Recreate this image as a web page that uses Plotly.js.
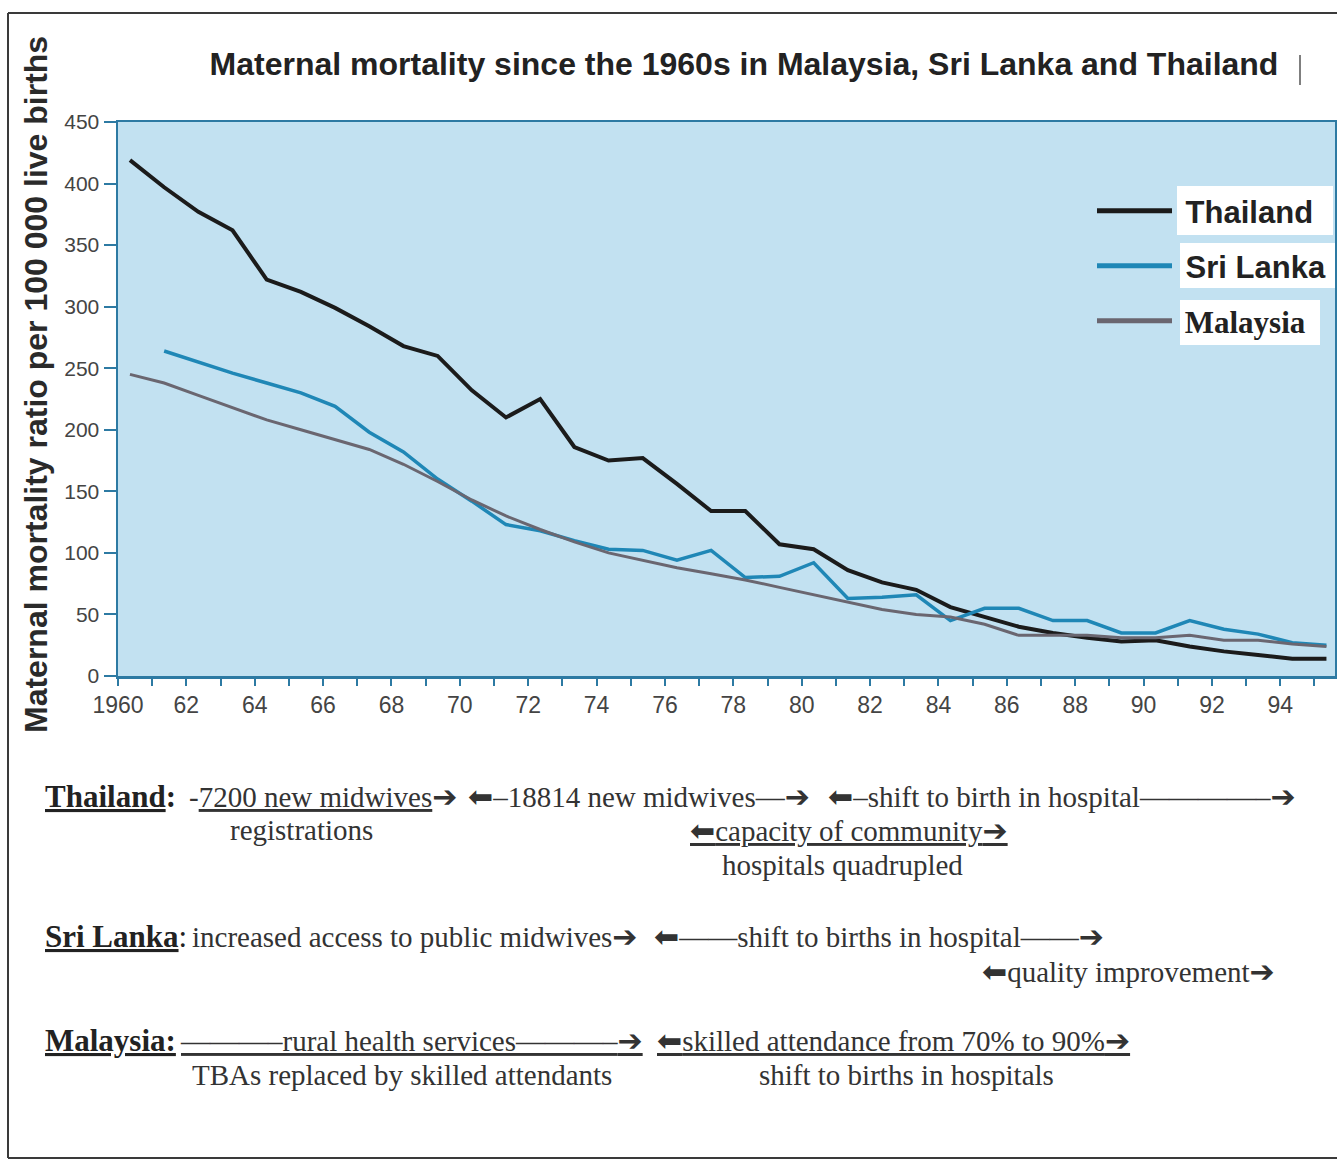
<!DOCTYPE html>
<html>
<head>
<meta charset="utf-8">
<script src="https://cdn.plot.ly/plotly-3.0.1.min.js"></script>
<style>html,body{margin:0;padding:0;background:#fff;}#chart{width:1337px;height:1163px;}</style>
</head>
<body>
<div id="chart"></div>
<script>
// ---- data ----
const yearsThailand = [1960,1961,1962,1963,1964,1965,1966,1967,1968,1969,1970,1971,1972,1973,1974,1975,1976,1977,1978,1979,1980,1981,1982,1983,1984,1985,1986,1987,1988,1989,1990,1991,1992,1993,1994,1995];
const thailand = [419,397,377,362,322,312,299,284,268,260,232,210,225,186,175,177,156,134,134,107,103,86,76,70,56,48,40,35,31,28,29,24,20,17,14,14];
const yearsSriLanka = [1961,1962,1963,1964,1965,1966,1967,1968,1969,1970,1971,1972,1973,1974,1975,1976,1977,1978,1979,1980,1981,1982,1983,1984,1985,1986,1987,1988,1989,1990,1991,1992,1993,1994,1995];
const sriLanka = [264,255,246,238,230,219,198,182,160,142,123,118,110,103,102,94,102,80,81,92,63,64,66,45,55,55,45,45,35,35,45,38,34,27,25];
const yearsMalaysia = [1960,1961,1962,1963,1964,1965,1966,1967,1968,1969,1970,1971,1972,1973,1974,1975,1976,1977,1978,1979,1980,1981,1982,1983,1984,1985,1986,1987,1988,1989,1990,1991,1992,1993,1994,1995];
const malaysia = [245,238,228,218,208,200,192,184,172,158,143,130,119,109,100,94,88,83,78,72,66,60,54,50,48,42,33,33,33,31,31,33,29,29,26,24];
const seriesNames = ["Thailand","Sri Lanka","Malaysia"];
const xTickVals = [1960,1962,1964,1966,1968,1970,1972,1974,1976,1978,1980,1982,1984,1986,1988,1990,1992,1994];
const xTickText = ["1960","62","64","66","68","70","72","74","76","78","80","82","84","86","88","90","92","94"];
const yTickVals = [0,50,100,150,200,250,300,350,400,450];

// ---- layout helpers (pixel -> paper) ----
const PL = 118, PW = 1217, PT = 122, PH = 554;
const px = x => (x - PL) / PW;
const py = y => (PT + PH - y) / PH;
const MID = 0.35; // points are drawn part-way through each year, as in the original

const NB = '\u00a0';
const traces = [
  {x: yearsThailand.map(v => v + MID), y: thailand, name: NB + seriesNames[0], type: 'scatter', mode: 'lines',
   line: {color: '#1b1b1b', width: 4}, legend: 'legend'},
  {x: yearsSriLanka.map(v => v + MID), y: sriLanka, name: NB + seriesNames[1], type: 'scatter', mode: 'lines',
   line: {color: '#1f87b6', width: 3.5}, legend: 'legend2'},
  {x: yearsMalaysia.map(v => v + MID), y: malaysia, name: NB + seriesNames[2], type: 'scatter', mode: 'lines',
   line: {color: '#6a6670', width: 3}, legend: 'legend3'}
];

const sans = 'Liberation Sans, Arial, sans-serif';
const serif = 'Liberation Serif, Times New Roman, serif';
const U = t => '<span style="text-decoration:underline">' + t + '</span>';
const RA = '<span style="font-family:DejaVu Sans;font-size:30px">➔</span>';
const LA = '<span style="font-family:DejaVu Sans;font-size:30px">⬅</span>';

function note(text, xl, yc, opts) {
  return Object.assign({text: text, x: px(xl), y: py(yc), xref: 'paper', yref: 'paper',
    xanchor: 'left', yanchor: 'middle', showarrow: false,
    font: {family: serif, size: 29, color: '#333'}}, opts || {});
}
const head = {family: serif, size: 31, color: '#222'};

const annotations = [
  {text: '<b>Maternal mortality ratio per 100 000 live births</b>', textangle: -90,
   x: px(36), y: py(385), xref: 'paper', yref: 'paper', xanchor: 'center', yanchor: 'middle', showarrow: false,
   font: {family: sans, size: 32, color: '#2a2a2a'}},
  note('<b>' + U('Thailand') + ':</b>', 43, 796, {font: head}),
  note('-' + U('7200 new midwives') + RA, 187, 796),
  note(LA + '–18814 new midwives—' + RA, 466, 796),
  note(LA + '–shift to birth in hospital————–' + RA, 826, 796),
  note('registrations', 228, 830),
  note(U(LA + 'capacity of community' + RA), 688, 830),
  note('hospitals quadrupled', 720, 865),
  note('<b>' + U('Sri Lanka') + '</b>:', 43, 936, {font: head}),
  note('increased access to public midwives' + RA, 190, 936),
  note(LA + '——shift to births in hospital——' + RA, 652, 936),
  note(LA + 'quality improvement' + RA, 980, 971),
  note('<b>' + U('Malaysia:') + '</b>', 43, 1040, {font: head}),
  note(U('———–rural health services———–' + RA), 178, 1040),
  note(U(LA + 'skilled attendance from 70% to 90%' + RA), 655, 1040),
  note('TBAs replaced by skilled attendants', 190, 1075),
  note('shift to births in hospitals', 757, 1075)
];

const frame = {type: 'line', xref: 'paper', yref: 'paper', line: {color: '#3a3a3a', width: 2}, layer: 'above'};
const box = {type: 'rect', xref: 'paper', yref: 'paper', fillcolor: '#ffffff', line: {width: 0}, layer: 'above'};
const shapes = [
  Object.assign({}, frame, {x0: px(8), x1: px(1337), y0: py(13), y1: py(13)}),
  Object.assign({}, frame, {x0: px(8), x1: px(8), y0: py(13), y1: py(1158)}),
  Object.assign({}, frame, {x0: px(8), x1: px(1337), y0: py(1158), y1: py(1158)}),
  Object.assign({}, frame, {x0: px(1300), x1: px(1300), y0: py(55), y1: py(85), line: {color: '#555', width: 1.5}}),
  Object.assign({}, box, {x0: px(1177), x1: px(1333), y0: py(186), y1: py(235)}),
  Object.assign({}, box, {x0: px(1180), x1: px(1335), y0: py(243), y1: py(288)}),
  Object.assign({}, box, {x0: px(1180), x1: px(1320), y0: py(300), y1: py(345)})
];

const legBase = {xref: 'paper', yref: 'paper', xanchor: 'left', yanchor: 'middle',
  bgcolor: 'rgba(0,0,0,0)', borderwidth: 0, itemwidth: 75, itemsizing: 'constant'};

const layout = {
  width: 1337, height: 1163,
  margin: {l: PL, r: 1337 - PL - PW, t: PT, b: 1163 - PT - PH, pad: 0},
  paper_bgcolor: '#ffffff', plot_bgcolor: '#c2e1f1',
  title: {text: '<b>Maternal mortality since the 1960s in Malaysia, Sri Lanka and Thailand</b>',
    x: 744 / 1337, xref: 'container', xanchor: 'center', y: 1 - 64 / 1163, yref: 'container', yanchor: 'middle',
    font: {family: sans, size: 32, color: '#222'}},
  xaxis: {range: [1960, 1995.6], tickmode: 'array', tickvals: xTickVals, ticktext: xTickText,
    showgrid: false, zeroline: false, showline: true, linecolor: '#2d7aa3', linewidth: 2.5, mirror: true,
    ticks: 'outside', ticklen: 7, tickwidth: 2, tickcolor: '#2d7aa3',
    minor: {tickmode: 'linear', tick0: 1960, dtick: 1, ticks: 'outside', ticklen: 7, tickwidth: 2, tickcolor: '#2d7aa3'},
    tickfont: {family: sans, size: 23, color: '#444'}, fixedrange: true},
  yaxis: {range: [0, 450], tickmode: 'array', tickvals: yTickVals,
    showgrid: false, zeroline: false, showline: true, linecolor: '#2d7aa3', linewidth: 2.5, mirror: true,
    ticks: 'outside', ticklen: 12, tickwidth: 2, tickcolor: '#2d7aa3',
    tickfont: {family: sans, size: 21, color: '#444'}, fixedrange: true},
  showlegend: true,
  legend: Object.assign({}, legBase, {x: px(1092), y: py(211), font: {family: sans, size: 31, color: '#222', weight: 'bold'}}),
  legend2: Object.assign({}, legBase, {x: px(1092), y: py(266), font: {family: sans, size: 31, color: '#222', weight: 'bold'}}),
  legend3: Object.assign({}, legBase, {x: px(1092), y: py(321), font: {family: serif, size: 31, color: '#222', weight: 'bold'}}),
  annotations: annotations,
  shapes: shapes
};

Plotly.newPlot('chart', traces, layout, {displayModeBar: false, staticPlot: true});
</script>
</body>
</html>
